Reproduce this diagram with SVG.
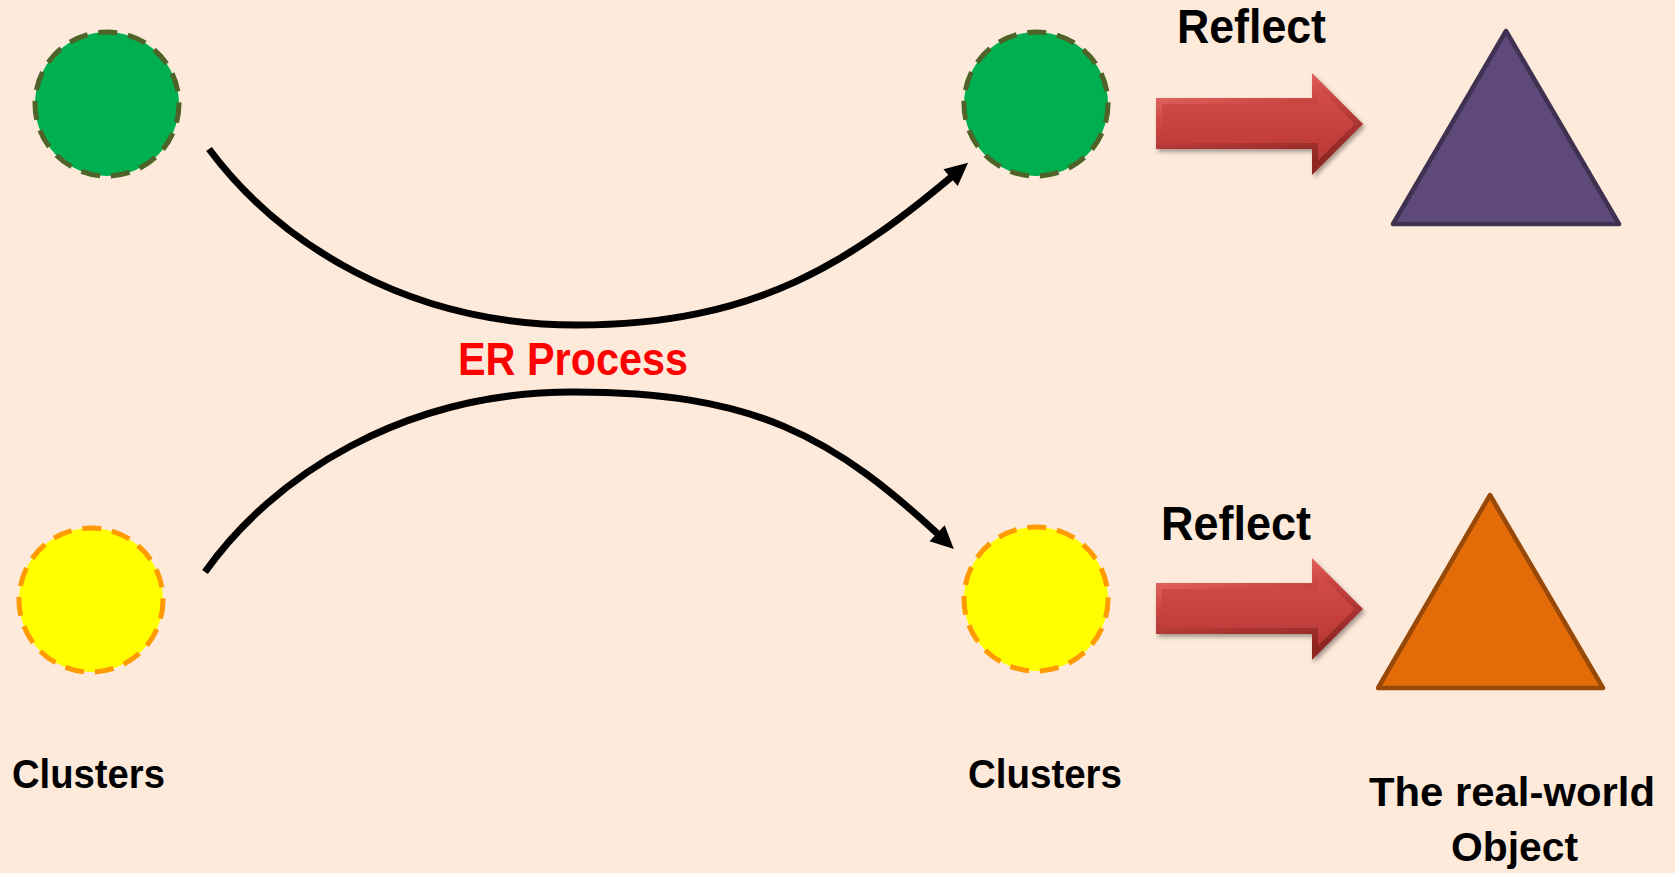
<svg xmlns="http://www.w3.org/2000/svg" width="1675" height="873" viewBox="0 0 1675 873">
  <defs>
    <style>
      .lbl { font-family: "Liberation Sans", Arial, sans-serif; font-weight: bold; fill: #000000; }
      .big { font-size: 48px; }
      .mid { font-size: 41px; }
      .er { font-family: "Liberation Sans", Arial, sans-serif; font-weight: bold; font-size: 47px; fill: #FF0000; }
      .green { fill: #00B050; stroke: #4F6228; stroke-width: 5; stroke-dasharray: 19 11; }
      .yellow { fill: #FFFF00; stroke: #FF9A00; stroke-width: 5; stroke-dasharray: 19 11; }
      .conn { fill: none; stroke: #000000; stroke-width: 7; marker-end: url(#ah); }
    </style>
    <marker id="ah" markerUnits="userSpaceOnUse" markerWidth="24" markerHeight="23" refX="15" refY="11" orient="auto" overflow="visible">
      <path d="M0,0 L23,11 L0,22 Z" fill="#000000"/>
    </marker>
    <linearGradient id="outerG" x1="0" y1="0" x2="0.35" y2="1">
      <stop offset="0" stop-color="#F27D78"/>
      <stop offset="0.45" stop-color="#CC4643"/>
      <stop offset="1" stop-color="#8E2624"/>
    </linearGradient>
    <linearGradient id="innerG" x1="0" y1="0" x2="0" y2="1">
      <stop offset="0" stop-color="#D44E4B"/>
      <stop offset="1" stop-color="#B93835"/>
    </linearGradient>
    <filter id="sh" x="-10%" y="-20%" width="130%" height="150%">
      <feDropShadow dx="2" dy="3" stdDeviation="2" flood-color="#000000" flood-opacity="0.35"/>
    </filter>
    <g id="redArrow">
      <polygon points="1156,98 1312,98 1312,73 1363,124 1312,175 1312,149 1156,149" fill="url(#outerG)" filter="url(#sh)"/>
      <polygon points="1162,104 1318,104 1318,87.5 1354.5,124 1318,160.5 1318,143 1162,143" fill="url(#innerG)"/>
    </g>
  </defs>

  <rect x="0" y="0" width="1675" height="873" fill="#FDEADA"/>

  <g id="connectors">
    <path class="conn" d="M209,149 C279,243 407,325 577,325 C757,325 852,261.5 962,168"/>
    <path class="conn" d="M205,572 C273,476 403,392 573,392 C753,392 833,434.5 948,543.5"/>
  </g>

  <g id="cluster-green-left">
    <circle class="green" cx="107" cy="104" r="72"/>
  </g>
  <g id="cluster-green-right">
    <circle class="green" cx="1036" cy="104" r="72"/>
  </g>
  <g id="cluster-yellow-left">
    <circle class="yellow" cx="91" cy="600" r="72"/>
  </g>
  <g id="cluster-yellow-right">
    <circle class="yellow" cx="1036" cy="599" r="72"/>
  </g>

  <g id="reflect-arrow-top">
    <use href="#redArrow"/>
  </g>
  <g id="reflect-arrow-bottom">
    <use href="#redArrow" transform="translate(0,485)"/>
  </g>

  <g id="object-purple">
    <polygon points="1506,31 1619,224 1393,224" fill="#5F497A" stroke="#3F3151" stroke-width="4.5" stroke-linejoin="round"/>
  </g>
  <g id="object-orange">
    <polygon points="1490,495 1603,688 1378,688" fill="#E36C09" stroke="#984807" stroke-width="4.5" stroke-linejoin="round"/>
  </g>

  <g id="labels">
    <text class="lbl big" x="1177" y="43" textLength="149" lengthAdjust="spacingAndGlyphs">Reflect</text>
    <text class="lbl big" x="1161" y="540" textLength="150" lengthAdjust="spacingAndGlyphs">Reflect</text>
    <text class="er" x="458" y="375" textLength="230" lengthAdjust="spacingAndGlyphs">ER Process</text>
    <text class="lbl mid" x="12" y="788" textLength="153" lengthAdjust="spacingAndGlyphs">Clusters</text>
    <text class="lbl mid" x="968" y="788" textLength="154" lengthAdjust="spacingAndGlyphs">Clusters</text>
    <text class="lbl mid" x="1369" y="806" textLength="286" lengthAdjust="spacingAndGlyphs">The real-world</text>
    <text class="lbl mid" x="1451" y="861" textLength="127" lengthAdjust="spacingAndGlyphs">Object</text>
  </g>
</svg>
